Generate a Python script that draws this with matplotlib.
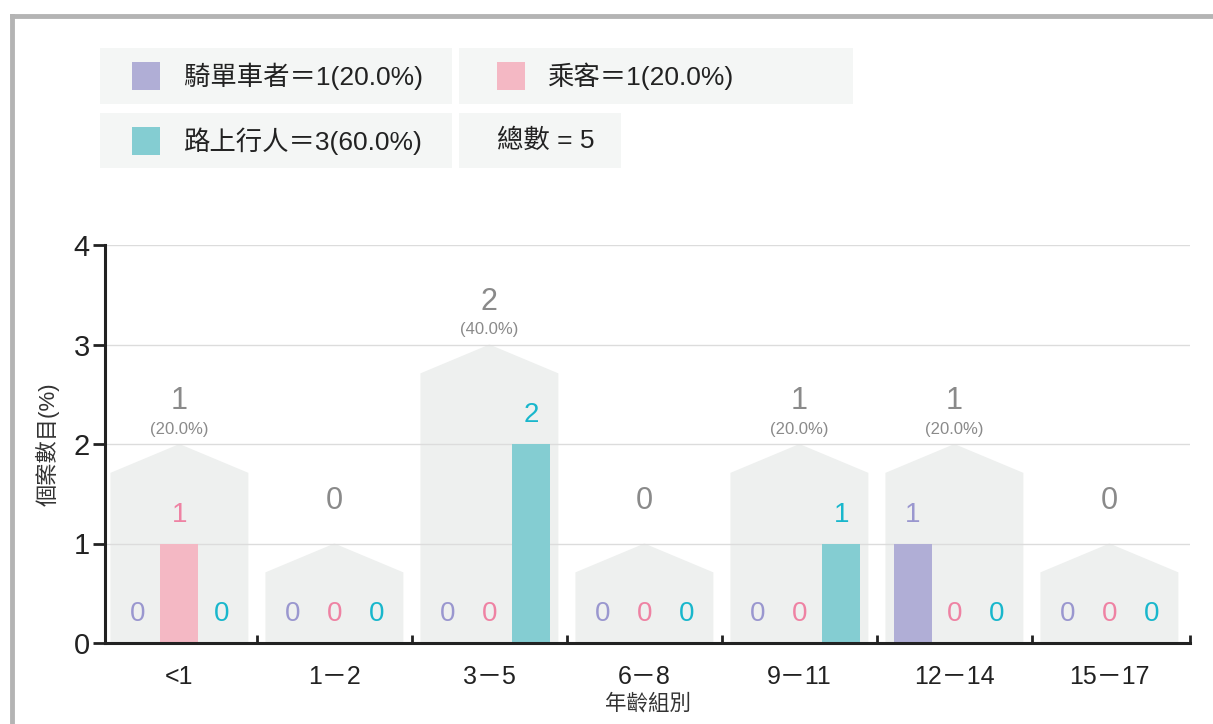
import matplotlib.pyplot as plt
import numpy as np
from matplotlib.patches import Polygon, Rectangle
from matplotlib.lines import Line2D

plt.rcParams['font.family'] = ['Liberation Sans', 'Noto Sans CJK TC', 'DejaVu Sans']

# data
age_groups = ['<1', '1－2', '3－5', '6－8', '9－11', '12－14', '15－17']
series_names = ['騎單車者', '乘客', '路上行人']
cyclist = [0, 0, 0, 0, 0, 1, 0]
passenger = [1, 0, 0, 0, 0, 0, 0]
pedestrian = [0, 0, 2, 0, 1, 0, 0]

bar_colors = ['#b0aed6', '#f4b8c4', '#84cdd2']
text_colors = ['#9a97cf', '#ee82a3', '#19b7cc']
house_color = '#eef0ef'
W, H = 1213, 724

series = [cyclist, passenger, pedestrian]
totals = np.sum(series, axis=0)
grand = totals.sum()

fig = plt.figure(figsize=(W / 100, H / 100), dpi=100)

def fx(x):
    return x / W

def fy(y):
    return 1 - y / H

# frame lines of the panel
fig.add_artist(Line2D([fx(12), fx(W)], [fy(16), fy(16)], color='#b4b4b4', lw=3.5))
fig.add_artist(Line2D([fx(12), fx(12)], [fy(16), fy(H)], color='#b4b4b4', lw=3.5))

ax = fig.add_axes([fx(105), fy(643), fx(1190) - fx(105), fy(245) - fy(643)])
x = np.arange(len(age_groups))
offsets = [-0.27, 0.0, 0.27]
half = 0.445

for i, t in enumerate(totals):
    pts = [(i - half, 0), (i - half, t + 0.71), (i, t + 1), (i + half, t + 0.71), (i + half, 0)]
    ax.add_patch(Polygon(pts, closed=True, facecolor=house_color, edgecolor='none', zorder=0.5))
    ax.text(i, t + 1.43, str(t), ha='center', va='center', fontsize=22, color='#8a8a8a')
    if t > 0:
        ax.text(i, t + 1.15, '(%.1f%%)' % (100 * t / grand), ha='center', va='center',
                fontsize=12, color='#8a8a8a')

for vals, off, bc, tc in zip(series, offsets, bar_colors, text_colors):
    ax.bar(x + off, vals, width=0.245, color=bc, zorder=2)
    for i, v in enumerate(vals):
        ax.text(i + off, v + 0.29, str(v), ha='center', va='center', fontsize=20, color=tc, zorder=3)

ax.set_xlim(-0.48, 6.52)
ax.set_ylim(0, 4)
ax.set_yticks([0, 1, 2, 3, 4])
ax.grid(axis='y', color='#dcdcdc', lw=1)
ax.set_axisbelow('line')
for s in ['top', 'right']:
    ax.spines[s].set_visible(False)
for s in ['left', 'bottom']:
    ax.spines[s].set_linewidth(2.2)
    ax.spines[s].set_color('#222222')
ax.tick_params(axis='y', direction='out', length=9, width=2, labelsize=21, pad=2, colors='#222222')
ax.set_xticks(x)
ax.set_xticklabels(age_groups, fontsize=18)
ax.set_xticks(list(np.arange(0.5, 6, 1)) + [6.52], minor=True)
ax.tick_params(axis='x', which='major', length=0, pad=16, colors='#222222')
ax.tick_params(axis='x', which='minor', direction='in', length=6, width=2, colors='#222222')
ax.set_xlabel('年齡組別', fontsize=15.5, color='#333333', labelpad=3)
ax.set_ylabel('個案數目(%)', fontsize=16, color='#333333', labelpad=10)

# legend boxes
boxes = [(100, 48, 452, 104), (459, 48, 853, 104), (100, 113, 452, 168), (459, 113, 621, 168)]
for (x0, y0, x1, y1) in boxes:
    fig.add_artist(Rectangle((fx(x0), fy(y1)), fx(x1 - x0), (y1 - y0) / H,
                             facecolor='#f4f6f5', edgecolor='none'))
legend_pos = [(132, 184, 76), (497, 547, 76), (132, 184, 141)]
counts = [sum(s) for s in series]
for (sx, tx, cy), name, c, col in zip(legend_pos, series_names, counts, bar_colors):
    fig.add_artist(Rectangle((fx(sx), fy(cy + 14)), fx(28), 28 / H, facecolor=col, edgecolor='none'))
    fig.text(fx(tx), fy(cy), '%s＝%d(%.1f%%)' % (name, c, 100 * c / grand),
             ha='left', va='center', fontsize=19, color='#222222')
fig.text(fx(497), fy(141), '總數 = %d' % grand, ha='left', va='center', fontsize=19, color='#222222')

fig.savefig('out.png', dpi=100)
